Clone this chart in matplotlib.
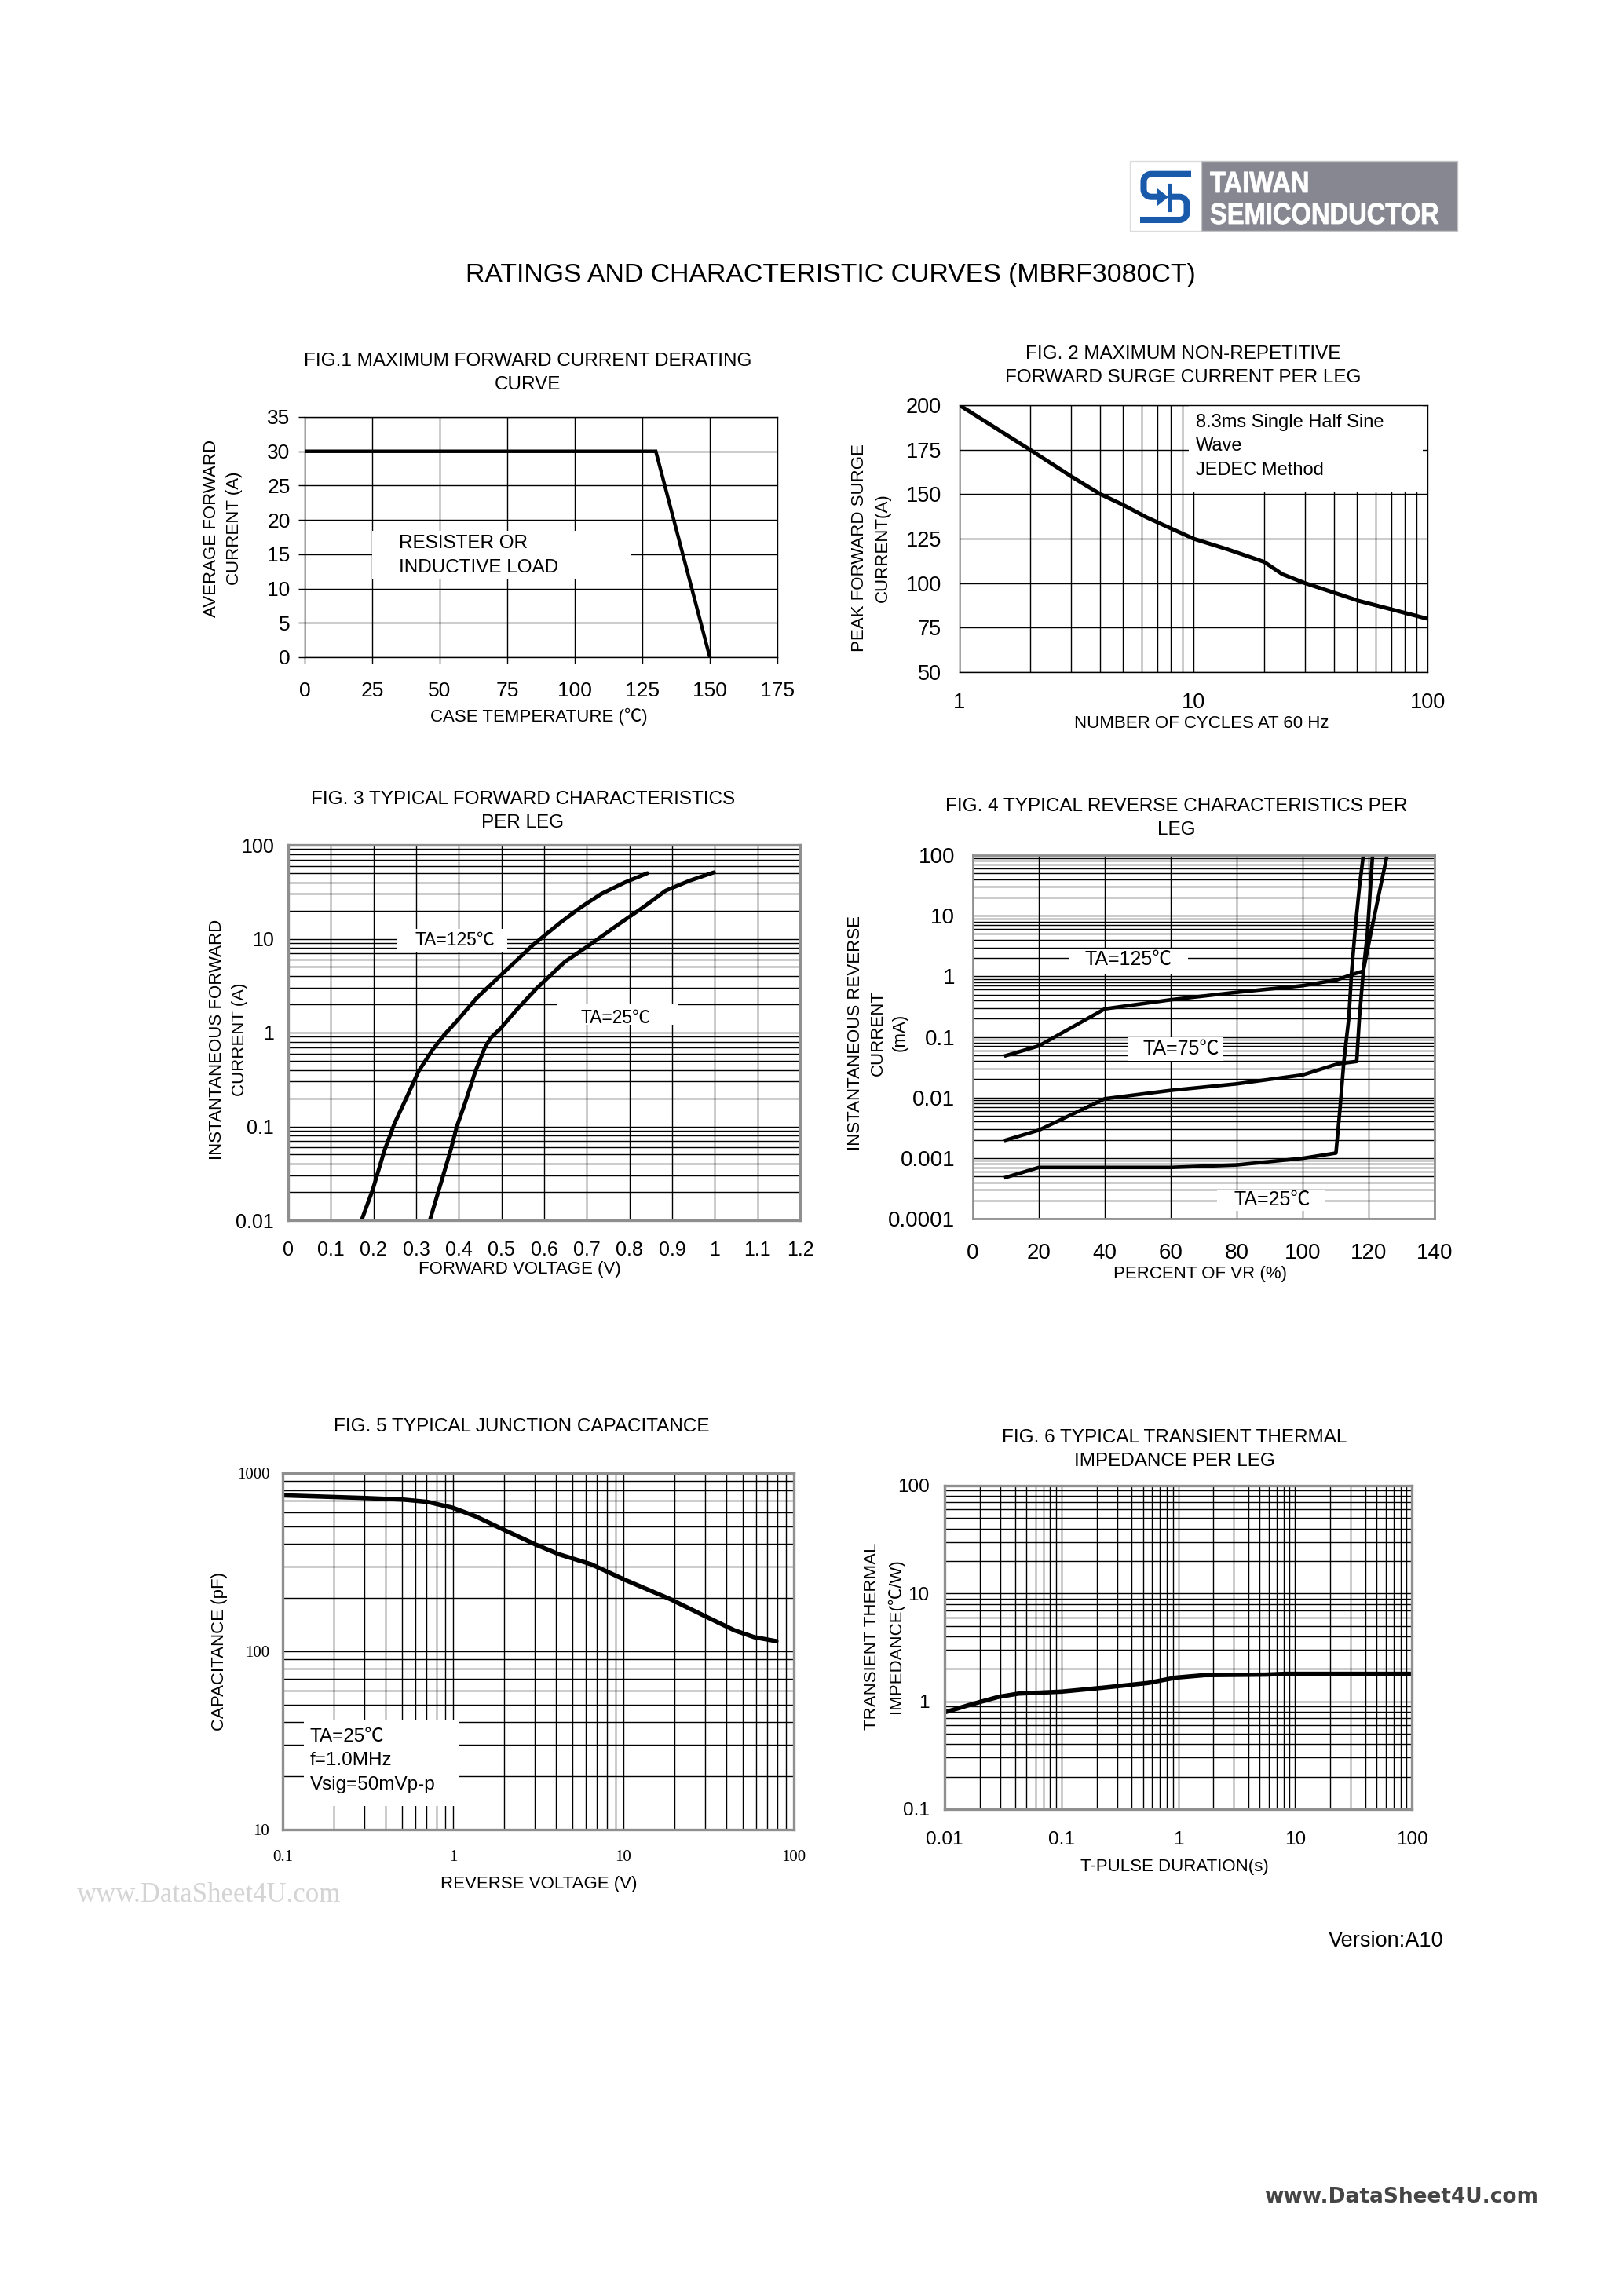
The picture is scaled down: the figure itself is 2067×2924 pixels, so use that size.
#!/usr/bin/python3
import numpy as np
import matplotlib
matplotlib.use('Agg')
from matplotlib import pyplot as plt
from matplotlib.patches import Rectangle, Polygon, PathPatch
from matplotlib.ticker import FixedLocator, FixedFormatter, LogLocator, NullFormatter, NullLocator
from matplotlib.textpath import TextPath
from matplotlib.font_manager import FontProperties
from matplotlib.transforms import Affine2D

W, H = 2067, 2924
SANS = ['Liberation Sans', 'Noto Sans CJK SC', 'DejaVu Sans']
SERIF = ['Liberation Serif', 'DejaVu Serif']
plt.rcParams['font.family'] = SANS
plt.rcParams['axes.unicode_minus'] = False

# fig 1 - derating
derate_temp = [0, 130, 150]
derate_current = [30, 30, 0]
f1_xticks = [0, 25, 50, 75, 100, 125, 150, 175]
f1_yticks = [0, 5, 10, 15, 20, 25, 30, 35]

# fig 2 - surge current
surge_cycles = [1, 2, 3, 4, 5, 6.3, 10, 14, 20, 24, 30, 40, 51, 100]
surge_current = [200, 175, 160, 150, 144, 137, 125, 119, 112, 105, 100, 94.6, 90, 80]
f2_xticks = [1, 10, 100]
f2_yticks = [50, 75, 100, 125, 150, 175, 200]

# fig 3 - forward characteristics
vf_125 = [0.172, 0.198, 0.226, 0.249, 0.278, 0.306, 0.339, 0.367, 0.395, 0.442,
          0.499, 0.574, 0.640, 0.687, 0.734, 0.790, 0.842]
if_125 = [0.01, 0.021, 0.056, 0.107, 0.205, 0.39, 0.66, 0.96, 1.32, 2.34,
          4.1, 8.6, 15.1, 21.8, 30.1, 40, 50]
vf_25 = [0.332, 0.358, 0.381, 0.395, 0.414, 0.438, 0.461, 0.475, 0.499, 0.536,
         0.583, 0.649, 0.706, 0.771, 0.833, 0.885, 0.941, 0.998]
if_25 = [0.01, 0.0248, 0.056, 0.0986, 0.174, 0.376, 0.69, 0.88, 1.12, 1.76,
         2.98, 5.7, 8.55, 13.9, 21.8, 32.6, 41.6, 51]
f3_xticks = [0, 0.1, 0.2, 0.3, 0.4, 0.5, 0.6, 0.7, 0.8, 0.9, 1.0, 1.1, 1.2]
f3_xlabels = ['0', '0.1', '0.2', '0.3', '0.4', '0.5', '0.6', '0.7', '0.8', '0.9', '1', '1.1', '1.2']
f3_yticks = [0.01, 0.1, 1, 10, 100]
f3_ylabels = ['0.01', '0.1', '1', '10', '100']

# fig 4 - reverse characteristics
ir_125_pct = [10, 20, 40, 60, 80, 100, 110.5, 114.8, 118.4, 120.6, 123, 125.6]
ir_125 = [0.049, 0.071, 0.29, 0.41, 0.545, 0.70, 0.88, 1.06, 1.22, 4.9, 21, 100]
ir_75_pct = [10, 20, 40, 60, 80, 100, 110.5, 116.4, 117.2, 118.4, 119.6, 121.2]
ir_75 = [0.00198, 0.00289, 0.00953, 0.0131, 0.0168, 0.0236, 0.0357, 0.0394,
         0.204, 1.22, 4.9, 100]
ir_25_pct = [10, 20, 40, 60, 80, 100, 110.1, 111.3, 112.5, 114.0, 114.8, 116.0, 117.2, 118.4]
ir_25 = [0.00048, 0.0007, 0.0007, 0.0007, 0.00077, 0.00099, 0.00121, 0.0063, 0.0394,
         0.204, 1.1, 6.6, 29.4, 100]
f4_xticks = [0, 20, 40, 60, 80, 100, 120, 140]
f4_yticks = [0.0001, 0.001, 0.01, 0.1, 1, 10, 100]
f4_ylabels = ['0.0001', '0.001', '0.01', '0.1', '1', '10', '100']

# fig 5 - junction capacitance
cap_v = [0.1, 0.148, 0.30, 0.51, 0.71, 1.0, 1.35, 2.03, 3.04, 4.2, 6.47, 10,
         18.9, 29.9, 44.9, 58.7, 79]
cap_pf = [750, 741, 725, 710, 689, 638, 573, 476, 398, 350, 308, 254,
          196, 158, 131, 120, 114]
f5_xticks = [0.1, 1, 10, 100]
f5_xlabels = ['0.1', '1', '10', '100']
f5_yticks = [10, 100, 1000]
f5_ylabels = ['10', '100', '1000']

# fig 6 - transient thermal impedance
zth_t = [0.01, 0.0165, 0.029, 0.043, 0.1, 0.23, 0.55, 0.96, 1.69, 5.6, 8.3, 100]
zth = [0.79, 0.93, 1.10, 1.18, 1.23, 1.34, 1.48, 1.66, 1.75, 1.77, 1.80, 1.80]
f6_xticks = [0.01, 0.1, 1, 10, 100]
f6_xlabels = ['0.01', '0.1', '1', '10', '100']
f6_yticks = [0.1, 1, 10, 100]
f6_ylabels = ['0.1', '1', '10', '100']

GRID_LW = 1.0
CURVE_LW = 3.6
FRAME_GREY = '#8f8f8f'
TITLE_LS = 1.45
YLAB_LS = 1.55
BOX_LS = 1.5

fig = plt.figure(figsize=(W / 100, H / 100), dpi=100)
fig.patch.set_facecolor('white')


def px_axes(l, t, r, b):
    return fig.add_axes([l / W, 1 - b / H, (r - l) / W, (b - t) / H])


def ftext(x, y, s, **kw):
    kw.setdefault('ha', 'center')
    kw.setdefault('va', 'center')
    return fig.text(x / W, 1 - y / H, s, **kw)


def setup(ax, xticks, xlabels, yticks, ylabels, fs, xpad, ypad,
          edge='k', edge_lw=1.0, ticklen=0, logx=False, logy=False, family=None):
    ax.set_axisbelow(True)
    if logx:
        ax.set_xscale('log')
    if logy:
        ax.set_yscale('log')
    ax.xaxis.set_major_locator(FixedLocator(xticks))
    ax.xaxis.set_major_formatter(FixedFormatter([str(v) for v in xlabels]))
    ax.yaxis.set_major_locator(FixedLocator(yticks))
    ax.yaxis.set_major_formatter(FixedFormatter([str(v) for v in ylabels]))
    for axis, is_log in ((ax.xaxis, logx), (ax.yaxis, logy)):
        if is_log:
            axis.set_minor_locator(LogLocator(base=10, subs=np.arange(2, 10), numticks=100))
        else:
            axis.set_minor_locator(NullLocator())
        axis.set_minor_formatter(NullFormatter())
    ax.tick_params(which='major', length=ticklen, width=1, direction='out',
                   labelsize=fs, colors='k')
    ax.tick_params(which='minor', length=0)
    ax.tick_params(axis='x', pad=xpad)
    ax.tick_params(axis='y', pad=ypad)
    ax.grid(True, which='both', color='k', lw=GRID_LW)
    for sp in ax.spines.values():
        sp.set_color(edge)
        sp.set_linewidth(edge_lw)
        sp.set_zorder(5)
    if family:
        for lab in ax.get_xticklabels() + ax.get_yticklabels():
            lab.set_family(family)


def white_box(ax, x0, y0, x1, y1):
    ax.add_patch(Rectangle((x0, y0), x1 - x0, y1 - y0, transform=ax.transAxes,
                           facecolor='white', edgecolor='none', zorder=1.5))


# ---------------- header ----------------
ax_logo = px_axes(1436, 201, 1860, 297)
ax_logo.set_xlim(1436, 1860)
ax_logo.set_ylim(297, 201)
ax_logo.axis('off')
ax_logo.add_patch(Rectangle((1439, 205), 91, 89, facecolor='white', edgecolor='#dcdcdc', lw=1))
ax_logo.add_patch(Rectangle((1530, 205), 326, 89, facecolor='#878791', edgecolor='#c4c4c8', lw=1))


def arc(cx, cy, r, a0, a1):
    t = np.radians(np.linspace(a0, a1, 20))
    return list(cx + r * np.cos(t)), list(cy + r * np.sin(t))


BLUE = '#1a5aaa'
ax1x, ax1y = arc(1466, 231.2, 9.5, -90, -180)
ax2x, ax2y = arc(1466, 241.2, 9.5, 180, 90)
ax_logo.plot([1517] + ax1x + ax2x + [1478], [221.7] + ax1y + ax2y + [250.7],
             color=BLUE, lw=5.8, solid_capstyle='butt')
bx1, by1 = arc(1502, 260.2, 9.5, -90, 0)
bx2, by2 = arc(1502, 270.5, 9.5, 0, 90)
ax_logo.plot([1490] + bx1 + bx2 + [1452], [250.7] + by1 + by2 + [280],
             color=BLUE, lw=5.8, solid_capstyle='butt')
ax_logo.add_patch(Polygon([(1474, 240), (1488, 251), (1474, 262)], closed=True,
                          facecolor=BLUE, edgecolor='none'))
ax_logo.plot([1490, 1490], [236, 268], color=BLUE, lw=3.0)
bold = FontProperties(family='Liberation Sans', weight='bold')
for word, base in (('TAIWAN', 245), ('SEMICONDUCTOR', 285)):
    tp = TextPath((0, 0), word, size=38, prop=bold)
    tr = Affine2D().scale(0.86, -1).translate(1541, base)
    ax_logo.add_patch(PathPatch(tr.transform_path(tp), facecolor='white', edgecolor='white', lw=0.6))

ftext(1058, 351, 'RATINGS AND CHARACTERISTIC CURVES (MBRF3080CT)', fontsize=24.3)

# ---------------- fig 1 ----------------
ax = px_axes(388, 531, 990, 837)
ax.set_xlim(0, 175)
ax.set_ylim(0, 35)
setup(ax, f1_xticks, f1_xticks, f1_yticks, f1_yticks, 19, 16.5, 7.5, ticklen=5.8)
white_box(ax, 0.143, 0.327, 0.689, 0.526)
ax.plot(derate_temp, derate_current, color='k', lw=3.2, zorder=3, solid_joinstyle='miter')
ax.text(35, 14.8, 'RESISTER OR\nINDUCTIVE LOAD', ha='left', va='center', fontsize=17.5,
        linespacing=BOX_LS, zorder=4)
ftext(672, 475, 'FIG.1 MAXIMUM FORWARD CURRENT DERATING\nCURVE', fontsize=17.5, linespacing=TITLE_LS)
ftext(686, 913, 'CASE TEMPERATURE (\u2103)', fontsize=16)
ftext(284, 673, 'AVERAGE FORWARD\nCURRENT (A)', fontsize=16, rotation=90, linespacing=YLAB_LS)

# ---------------- fig 2 ----------------
ax = px_axes(1222, 516, 1818, 856)
ax.set_xlim(1, 100)
ax.set_ylim(50, 200)
setup(ax, f2_xticks, f2_xticks, f2_yticks, f2_yticks, 19.5, 19, 16.5, logx=True)
white_box(ax, 0.49, 0.675, 0.99, 1.0)
ax.plot(surge_cycles, surge_current, color='k', lw=CURVE_LW, zorder=3)
ax.text(0.505, 0.847, '8.3ms Single Half Sine\nWave\nJEDEC Method', transform=ax.transAxes,
        ha='left', va='center', fontsize=17, linespacing=BOX_LS, zorder=4)
ftext(1507, 466, 'FIG. 2 MAXIMUM NON-REPETITIVE\nFORWARD SURGE CURRENT PER LEG',
      fontsize=17.5, linespacing=TITLE_LS)
ftext(1530, 922, 'NUMBER OF CYCLES AT 60 Hz', fontsize=16)
ftext(1109, 698, 'PEAK FORWARD SURGE\nCURRENT(A)', fontsize=16, rotation=90, linespacing=YLAB_LS)

# ---------------- fig 3 ----------------
ax = px_axes(367, 1076, 1019, 1554)
ax.set_xlim(0, 1.2)
ax.set_ylim(0.01, 100)
setup(ax, f3_xticks, f3_xlabels, f3_yticks, f3_ylabels, 18, 18.5, 13,
      edge=FRAME_GREY, edge_lw=2.4, logy=True)
white_box(ax, 0.212, 0.716, 0.428, 0.777)
white_box(ax, 0.525, 0.52, 0.761, 0.576)
ax.plot(vf_125, if_125, color='k', lw=CURVE_LW, zorder=3, solid_capstyle='round')
ax.plot(vf_25, if_25, color='k', lw=CURVE_LW, zorder=3, solid_capstyle='round')
ax.text(0.39, 9.7, 'TA=125\u2103', ha='center', va='center', fontsize=16.5, zorder=4)
ax.text(0.767, 1.44, 'TA=25\u2103', ha='center', va='center', fontsize=16.5, zorder=4)
ftext(666, 1033, 'FIG. 3 TYPICAL FORWARD CHARACTERISTICS\nPER LEG', fontsize=17.5, linespacing=TITLE_LS)
ftext(662, 1616, 'FORWARD VOLTAGE (V)', fontsize=16)
ftext(291, 1324, 'INSTANTANEOUS FORWARD\nCURRENT (A)', fontsize=16, rotation=90, linespacing=YLAB_LS)

# ---------------- fig 4 ----------------
ax = px_axes(1239, 1089, 1827, 1552)
ax.set_xlim(0, 140)
ax.set_ylim(0.0001, 100)
setup(ax, f4_xticks, f4_xticks, f4_yticks, f4_ylabels, 20, 22, 16.5,
      edge=FRAME_GREY, edge_lw=2.0, logy=True)
white_box(ax, 0.209, 0.672, 0.466, 0.742)
white_box(ax, 0.336, 0.434, 0.543, 0.498)
white_box(ax, 0.529, 0.021, 0.764, 0.080)
ax.plot(ir_125_pct, ir_125, color='k', lw=3.3, zorder=3)
ax.plot(ir_75_pct, ir_75, color='k', lw=3.3, zorder=3)
ax.plot(ir_25_pct, ir_25, color='k', lw=3.3, zorder=3)
ax.text(47.1, 1.87, 'TA=125\u2103', ha='center', va='center', fontsize=18, zorder=4)
ax.text(63.1, 0.063, 'TA=75\u2103', ha='center', va='center', fontsize=18, zorder=4)
ax.text(90.8, 0.000207, 'TA=25\u2103', ha='center', va='center', fontsize=18, zorder=4)
ftext(1498, 1042, 'FIG. 4 TYPICAL REVERSE CHARACTERISTICS PER\nLEG', fontsize=17.5, linespacing=TITLE_LS)
ftext(1528, 1623, 'PERCENT OF VR (%)', fontsize=16)
ftext(1118, 1315, 'INSTANTANEOUS REVERSE\nCURRENT\n(mA)', fontsize=16, rotation=90, linespacing=1.45)

# ---------------- fig 5 ----------------
ax = px_axes(360, 1876, 1011, 2330)
ax.set_xlim(0.1, 100)
ax.set_ylim(10, 1000)
setup(ax, f5_xticks, f5_xlabels, f5_yticks, f5_ylabels, 15, 19, 12,
      edge=FRAME_GREY, edge_lw=2.4, logx=True, logy=True, family=SERIF)
white_box(ax, 0.041, 0.065, 0.346, 0.307)
ax.plot(cap_v, cap_pf, color='k', lw=4.0, zorder=3, solid_capstyle='round')
ax.text(0.053, 0.193, 'TA=25\u2103\nf=1.0MHz\nVsig=50mVp-p', transform=ax.transAxes,
        ha='left', va='center', fontsize=17.5, linespacing=BOX_LS, zorder=4)
ftext(664, 1817, 'FIG. 5 TYPICAL JUNCTION CAPACITANCE', fontsize=17.5)
ftext(686, 2399, 'REVERSE VOLTAGE (V)', fontsize=16)
ftext(280, 2103, 'CAPACITANCE (pF)', fontsize=16, rotation=90)

# ---------------- fig 6 ----------------
ax = px_axes(1203, 1892, 1798, 2304)
ax.set_xlim(0.01, 100)
ax.set_ylim(0.1, 100)
setup(ax, f6_xticks, f6_xlabels, f6_yticks, f6_ylabels, 17.5, 20, 14,
      edge=FRAME_GREY, edge_lw=2.4, logx=True, logy=True)
ax.plot(zth_t, zth, color='k', lw=4.0, zorder=3)
ftext(1496, 1846, 'FIG. 6 TYPICAL TRANSIENT THERMAL\nIMPEDANCE PER LEG', fontsize=17.5, linespacing=TITLE_LS)
ftext(1496, 2378, 'T-PULSE DURATION(s)', fontsize=16)
ftext(1126, 2084, 'TRANSIENT THERMAL\nIMPEDANCE(\u2103/W)', fontsize=16, rotation=90, linespacing=YLAB_LS)

# ---------------- footer ----------------
ftext(98, 2413, 'www.DataSheet4U.com', ha='left', fontsize=25, color='#d4d4d4', family=SERIF)
ftext(1692, 2472, 'Version:A10', ha='left', fontsize=19.5)
ftext(1785, 2798, 'www.DataSheet4U.com', fontsize=19, color='#454545', weight='bold',
      family=['DejaVu Sans'])

fig.savefig('out.png', dpi=100, facecolor='white')
